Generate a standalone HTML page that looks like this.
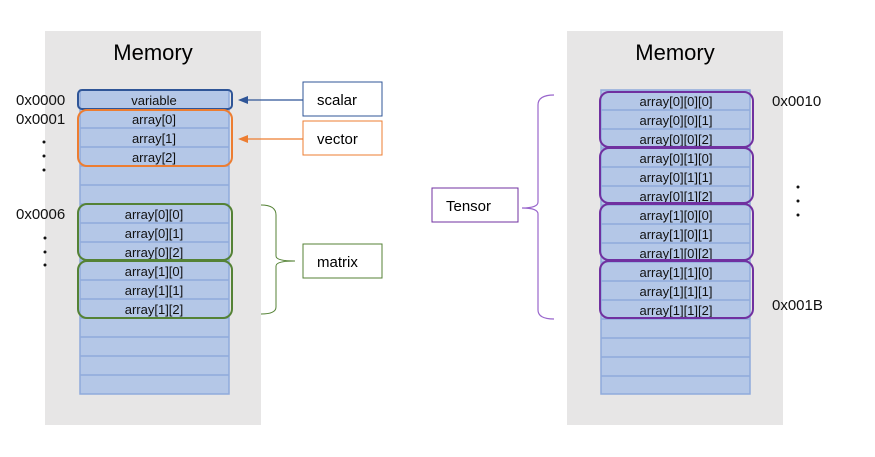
<!DOCTYPE html>
<html><head><style>
body{margin:0;width:875px;height:452px;background:#fff;font-family:"Liberation Sans","Noto Sans CJK KR",sans-serif;}
</style></head><body>
<svg width="875" height="452" xmlns="http://www.w3.org/2000/svg" font-family="Liberation Sans, sans-serif">
<rect x="45" y="31" width="216" height="394" fill="#e7e6e6"/>
<rect x="567" y="31" width="216" height="394" fill="#e7e6e6"/>
<text x="153" y="60" font-size="22" text-anchor="middle">Memory</text>
<text x="675" y="60" font-size="22" text-anchor="middle">Memory</text>
<g fill="#b4c7e7" stroke="#8faadc" stroke-width="1.5">
<rect x="80" y="90" width="149" height="304"/>
<rect x="601" y="90" width="149" height="304"/>
</g>
<g stroke="#8faadc" stroke-width="1.5">
<path d="M80 109H229M80 128H229M80 147H229M80 166H229M80 185H229M80 204H229M80 223H229M80 242H229M80 261H229M80 280H229M80 299H229M80 318H229M80 337H229M80 356H229M80 375H229"/>
<path d="M601 110H750M601 129H750M601 148H750M601 167H750M601 186H750M601 205H750M601 224H750M601 243H750M601 262H750M601 281H750M601 300H750M601 319H750M601 338H750M601 357H750M601 376H750"/>
</g>
<g font-size="13" text-anchor="middle" fill="#111">
<text x="154" y="105">variable</text>
<text x="154" y="124">array[0]</text><text x="154" y="143">array[1]</text><text x="154" y="162">array[2]</text>
<text x="154" y="219">array[0][0]</text><text x="154" y="238">array[0][1]</text><text x="154" y="257">array[0][2]</text>
<text x="154" y="276">array[1][0]</text><text x="154" y="295">array[1][1]</text><text x="154" y="314">array[1][2]</text>
<text x="676" y="106">array[0][0][0]</text><text x="676" y="125">array[0][0][1]</text><text x="676" y="144">array[0][0][2]</text>
<text x="676" y="163">array[0][1][0]</text><text x="676" y="182">array[0][1][1]</text><text x="676" y="201">array[0][1][2]</text>
<text x="676" y="220">array[1][0][0]</text><text x="676" y="239">array[1][0][1]</text><text x="676" y="258">array[1][0][2]</text>
<text x="676" y="277">array[1][1][0]</text><text x="676" y="296">array[1][1][1]</text><text x="676" y="315">array[1][1][2]</text>
</g>
<g fill="none" stroke-width="2">
<rect x="78" y="90" width="154" height="19" rx="4" stroke="#2f5597"/>
<rect x="78" y="110" width="154" height="56" rx="9" stroke="#ed7d31"/>
<rect x="78" y="204" width="154" height="56" rx="9" stroke="#548235"/>
<rect x="78" y="261" width="154" height="57" rx="9" stroke="#548235"/>
<rect x="600" y="92" width="153" height="55" rx="9" stroke="#7030a0"/>
<rect x="600" y="148" width="153" height="55" rx="9" stroke="#7030a0"/>
<rect x="600" y="204" width="153" height="56" rx="9" stroke="#7030a0"/>
<rect x="600" y="261" width="153" height="57" rx="9" stroke="#7030a0"/>
</g>
<g font-size="15" fill="#111">
<text x="16" y="105">0x0000</text><text x="16" y="124">0x0001</text><text x="16" y="219">0x0006</text>
<text x="772" y="106">0x0010</text><text x="772" y="310">0x001B</text>
</g>
<g fill="#111">
<circle cx="44" cy="142" r="1.5"/><circle cx="44" cy="156" r="1.5"/><circle cx="44" cy="170" r="1.5"/>
<circle cx="45" cy="238" r="1.5"/><circle cx="45" cy="252" r="1.5"/><circle cx="45" cy="265" r="1.5"/>
<circle cx="798" cy="187" r="1.5"/><circle cx="798" cy="201" r="1.5"/><circle cx="798" cy="215" r="1.5"/>
</g>
<rect x="303" y="82" width="79" height="34" fill="#fff" stroke="#2f5597"/>
<text x="317" y="105" font-size="15">scalar</text>
<rect x="303" y="121" width="79" height="34" fill="#fff" stroke="#ed7d31"/>
<text x="317" y="144" font-size="15">vector</text>
<rect x="303" y="244" width="79" height="34" fill="#fff" stroke="#548235"/>
<text x="317" y="267" font-size="15">matrix</text>
<rect x="432" y="188" width="86" height="34" fill="#fff" stroke="#7030a0"/>
<text x="446" y="211" font-size="15">Tensor</text>
<path d="M303 100H245" stroke="#2f5597" stroke-width="1.2"/>
<path d="M238 100l10-4v8z" fill="#2f5597"/>
<path d="M303 139H245" stroke="#ed7d31" stroke-width="1.2"/>
<path d="M238 139l10-4v8z" fill="#ed7d31"/>
<path d="M261 205Q276 205 276 215V256Q276 261 295 261Q276 261 276 266V307Q276 314 261 314" fill="none" stroke="#548235" stroke-width="1"/>
<path d="M554 95Q538 95 538 105V202Q538 208 522 208Q538 208 538 214V310Q538 319 554 319" fill="none" stroke="#9966cc" stroke-width="1.2"/>
</svg>
</body></html>
